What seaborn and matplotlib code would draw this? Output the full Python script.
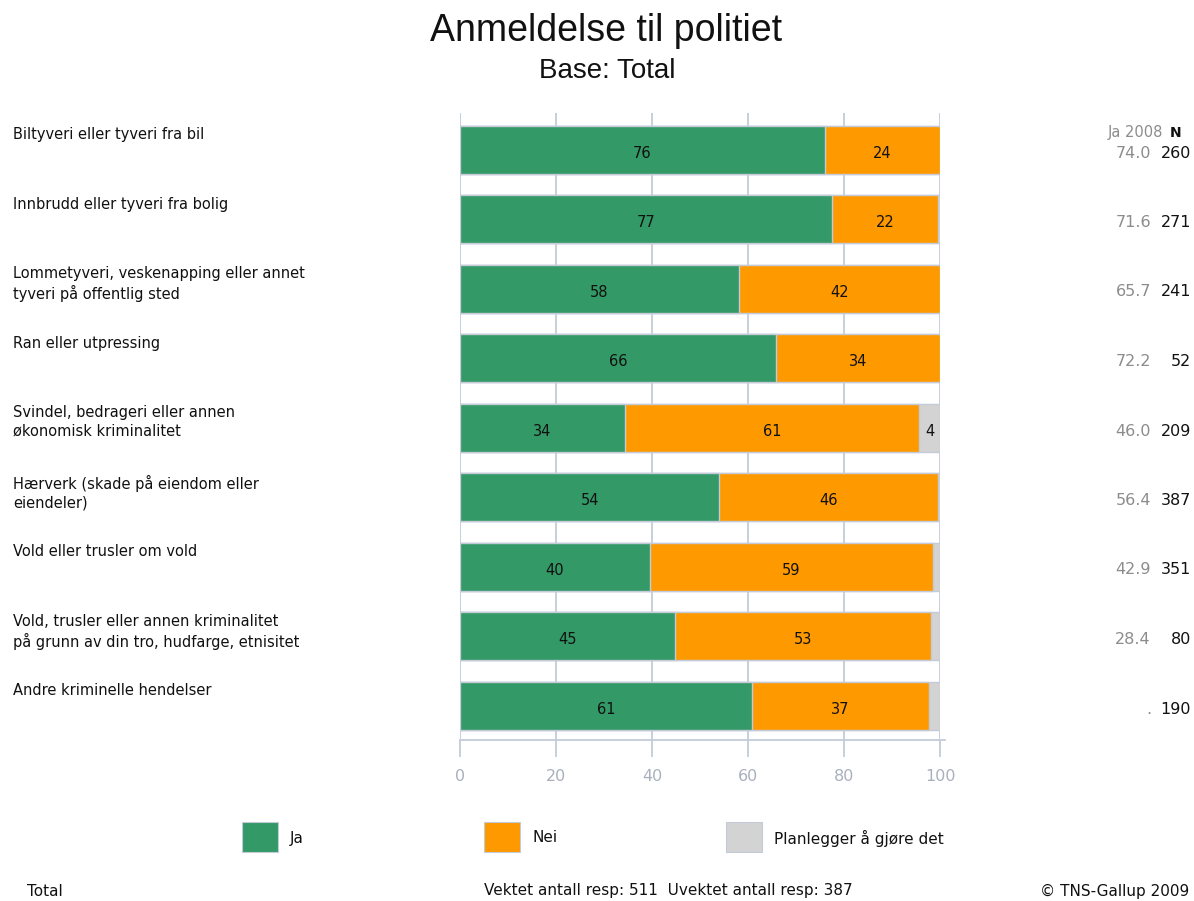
import matplotlib
matplotlib.use("Agg")
import pandas as pd
import matplotlib.pyplot as plt
import seaborn as sns

categories = [
    "Biltyveri eller tyveri fra bil",
    "Innbrudd eller tyveri fra bolig",
    "Lommetyveri, veskenapping eller annet\ntyveri på offentlig sted",
    "Ran eller utpressing",
    "Svindel, bedrageri eller annen\nøkonomisk kriminalitet",
    "Hærverk (skade på eiendom eller\neiendeler)",
    "Vold eller trusler om vold",
    "Vold, trusler eller annen kriminalitet\npå grunn av din tro, hudfarge, etnisitet",
    "Andre kriminelle hendelser",
]
ja = [76.0, 77.4, 58.1, 65.9, 34.4, 54.0, 39.6, 44.8, 60.8]
nei = [24.0, 22.2, 41.9, 34.1, 61.2, 45.6, 58.9, 53.3, 37.0]
planlegger = [0.0, 0.4, 0.0, 0.0, 4.4, 0.4, 1.5, 1.9, 2.2]
ja_2008 = ["74.0", "71.6", "65.7", "72.2", "46.0", "56.4", "42.9", "28.4", "."]
n_resp = [260, 271, 241, 52, 209, 387, 351, 80, 190]
ticks = [0, 20, 40, 60, 80, 100]

GREEN = "#339966"
ORANGE = "#ff9900"
GREY = "#d3d3d3"
LINE = "#c3cbd8"

df = pd.DataFrame({"cat": categories, "ja": ja, "nei": nei, "plan": planlegger})
df["ja_nei"] = df.ja + df.nei
df["total"] = df.ja_nei + df.plan

sns.set_style("white")
plt.rcParams["font.family"] = ["DejaVu Sans"]

fig = plt.figure(figsize=(11.94, 9.01), dpi=100)
ax = fig.add_axes([0.3853, 0.1787, 0.402, 0.6959])

# stacked bars: draw cumulative totals on top of each other
bar_kw = dict(orient="h", width=0.69, linewidth=1, edgecolor=LINE, ax=ax, zorder=3)
sns.barplot(data=df, x="total", y="cat", color=GREY, saturation=1, **bar_kw)
sns.barplot(data=df, x="ja_nei", y="cat", color=ORANGE, saturation=1, **bar_kw)
sns.barplot(data=df, x="ja", y="cat", color=GREEN, saturation=1, **bar_kw)

for i, row in df.iterrows():
    ax.text(row.ja / 2, i + 0.05, f"{row.ja:.0f}", ha="center", va="center",
            fontsize=10.5, color="#111111", zorder=5)
    ax.text(row.ja + row.nei / 2, i + 0.05, f"{row.nei:.0f}", ha="center", va="center",
            fontsize=10.5, color="#111111", zorder=5)
    if row.plan >= 3:
        ax.text(row.ja_nei + row.plan / 2, i + 0.05, f"{row.plan:.0f}", ha="center",
                va="center", fontsize=10.5, color="#111111", zorder=5)

ax.set_xlim(0, 100)
ax.set_ylim(8.49, -0.53)
ax.set_xticks(ticks)
ax.set_xticklabels([str(t) for t in ticks])
ax.set_yticks([])
ax.set_xlabel("")
ax.set_ylabel("")
ax.grid(axis="x", color=LINE, linewidth=1.3, zorder=0)
ax.grid(axis="y", visible=False)
for side in ["top", "right", "left"]:
    ax.spines[side].set_visible(False)
ax.spines["bottom"].set_color(LINE)
ax.spines["bottom"].set_linewidth(1.3)
ax.spines["bottom"].set_bounds(0, 101)
ax.tick_params(axis="x", bottom=True, length=12, width=1.3, color=LINE,
               labelcolor="#a9b0bd", labelsize=11.5, pad=9, direction="out")

# category labels at left, aligned with top of each bar
for i, cat in enumerate(categories):
    fig.text(13 / 1194, 1 - (126 + i * 69.5 + 1) / 901, cat, ha="left", va="top",
             fontsize=10.5, color="#111111", linespacing=1.3)

# right side columns
fig.text(1163 / 1194, 1 - 133 / 901, "Ja 2008", ha="right", va="center",
         fontsize=10.5, color="#8c8c8c")
fig.text(1181 / 1194, 1 - 133 / 901, "N", ha="right", va="center",
         fontsize=10, color="#111111", fontweight="bold")
for i in range(len(categories)):
    y = 1 - (153 + i * 69.5) / 901
    fig.text(1151 / 1194, y, ja_2008[i], ha="right", va="center", fontsize=11.5, color="#8c8c8c")
    fig.text(1191 / 1194, y, str(n_resp[i]), ha="right", va="center", fontsize=11.5, color="#111111")

# titles
fig.text(606 / 1194, 1 - 31 / 901, "Anmeldelse til politiet", ha="center", va="center",
         fontsize=27, family="Liberation Sans", color="#111111")
fig.text(607 / 1194, 1 - 71 / 901, "Base: Total", ha="center", va="center",
         fontsize=20, family="Liberation Sans", color="#111111")

# legend
legend_items = [("Ja", GREEN, 242), ("Nei", ORANGE, 484), ("Planlegger å gjøre det", GREY, 726)]
for label, col, px in legend_items:
    fig.patches.append(plt.Rectangle((px / 1194, 1 - 852 / 901), 36 / 1194, 30 / 901,
                                     transform=fig.transFigure, facecolor=col,
                                     edgecolor=LINE, linewidth=0.8))
    fig.text((px + 48) / 1194, 1 - 838 / 901, label, ha="left", va="center",
             fontsize=11, color="#111111")

# footer
fig.text(27 / 1194, 1 - 891 / 901, "Total", ha="left", va="center", fontsize=11, color="#111111")
fig.text(484 / 1194, 1 - 891 / 901, "Vektet antall resp: 511  Uvektet antall resp: 387",
         ha="left", va="center", fontsize=11, color="#111111")
fig.text(1040 / 1194, 1 - 891 / 901, "© TNS-Gallup 2009", ha="left", va="center",
         fontsize=11, color="#111111")

fig.savefig("out.png", dpi=100)
